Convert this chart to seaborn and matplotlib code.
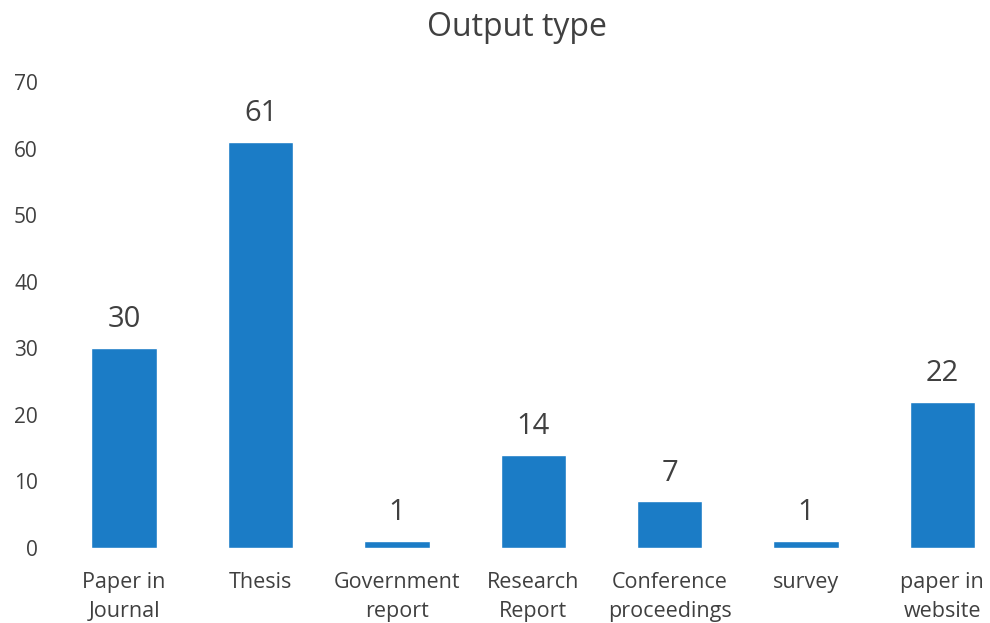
import matplotlib
matplotlib.use("Agg")
import matplotlib.pyplot as plt
import seaborn as sns
import pandas as pd

# data
categories = ["Paper in\nJournal", "Thesis", "Government\nreport", "Research\nReport",
              "Conference\nproceedings", "survey", "paper in\nwebsite"]
counts = [30, 61, 1, 14, 7, 1, 22]

df = pd.DataFrame({"type": categories, "count": counts})

sns.set_style("white")
plt.rcParams["font.family"] = ["Open Sans", "DejaVu Sans"]
text_col = "#404040"

fig = plt.figure(figsize=(9.9, 6.23), dpi=100)
ax = fig.add_axes([56 / 990, 75 / 623, (990 - 56) / 990, (548 - 82) / 623])

sns.barplot(data=df, x="type", y="count", color="#1b7cc6", width=0.48, saturation=1, ax=ax)

ax.bar_label(ax.containers[0], fontsize=21, color=text_col, padding=10)

ax.set_ylim(0, 70)
ax.set_xlim(-0.5, 6.35)
ax.set_yticks(range(0, 71, 10))
ax.set_xlabel("")
ax.set_ylabel("")
ax.tick_params(axis="y", labelsize=15, colors=text_col, length=0, pad=13)
ax.tick_params(axis="x", labelsize=15.5, colors=text_col, length=0, pad=17)
for lab in ax.get_xticklabels():
    lab.set_linespacing(1.55)
sns.despine(ax=ax, left=True, bottom=True)

fig.text(517 / 990, 1 - 27 / 623, "Output type", ha="center", va="center",
         fontsize=23, color=text_col)

fig.savefig("out.png", dpi=100)
